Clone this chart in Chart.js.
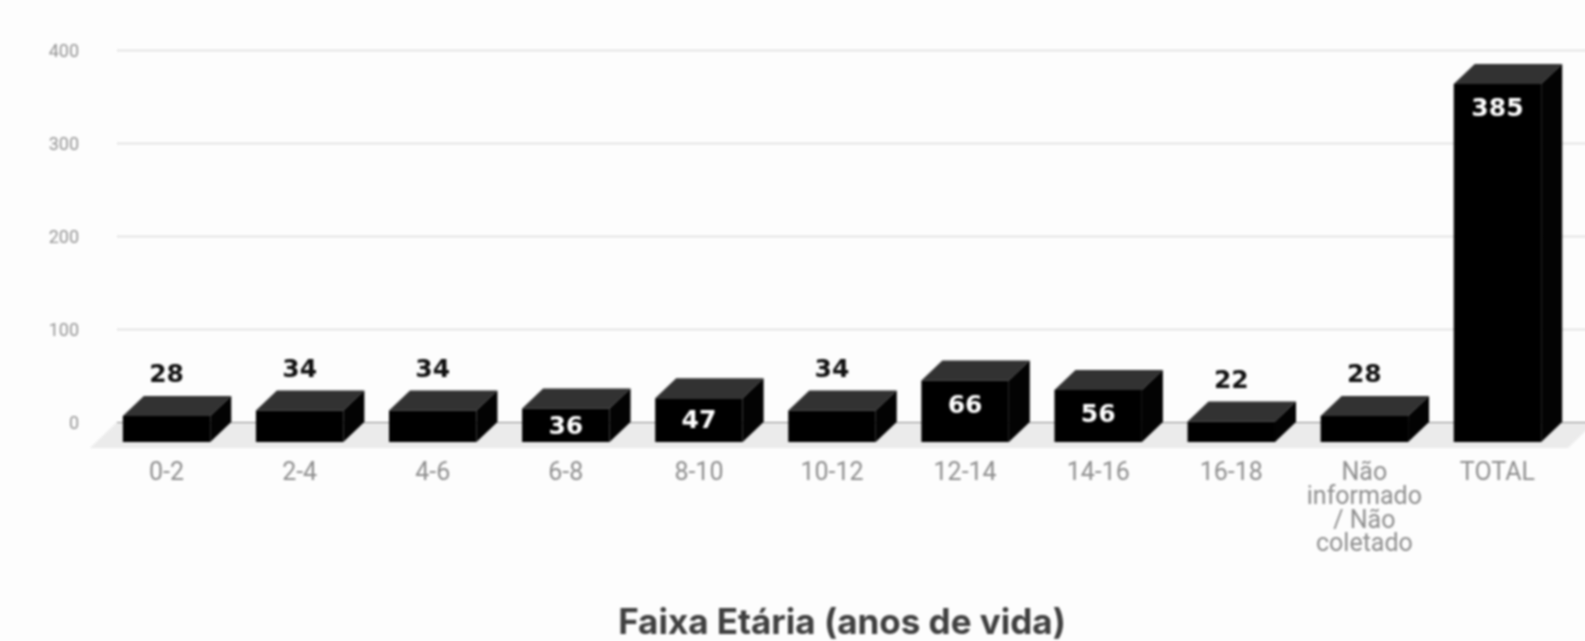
<!DOCTYPE html>
<html>
<head>
<meta charset="utf-8">
<script src="https://cdn.jsdelivr.net/npm/chart.js@4"></script>
<style>
  html, body { margin: 0; background: #fdfdfd; }
  #wrap { width: 1585px; height: 641px; overflow: hidden; }
  #chart { display: block; filter: blur(1px); }
</style>
</head>
<body>
<div id="wrap"><canvas id="chart" width="1684" height="641"></canvas></div>
<script>
const categories = ['0-2', '2-4', '4-6', '6-8', '8-10', '10-12', '12-14', '14-16', '16-18',
  ['Não', 'informado', '/ Não', 'coletado'], 'TOTAL'];
const values = [28, 34, 34, 36, 47, 34, 66, 56, 22, 28, 385];
const yTicks = [0, 100, 200, 300, 400];
const axisTitle = 'Faixa Etária (anos de vida)';

// a 3d look: front faces are real bars on an axis shifted down, the rest is drawn around them
const DEPTH_X = 21;
const DEPTH_Y = 20;
const PX_PER_UNIT = 0.93;
const FLOOR = 26; // px of floor below the zero line

function poly(ctx, pts, color) {
  ctx.fillStyle = color;
  ctx.beginPath();
  pts.forEach((p, i) => (i ? ctx.lineTo(p[0], p[1]) : ctx.moveTo(p[0], p[1])));
  ctx.closePath();
  ctx.fill();
}

const box3d = {
  id: 'box3d',
  beforeDatasetsDraw(chart) {
    const { ctx, chartArea, scales } = chart;
    const zero = scales.y.getPixelForValue(0);
    const front = chartArea.bottom;

    // floor
    poly(ctx, [
      [chartArea.left - 10, front], [chartArea.left + 17, zero],
      [chartArea.right + 31, zero], [chartArea.right + 4, front],
    ], '#ebebeb');

    // grid lines
    yTicks.forEach((t) => {
      const y = Math.round(scales.y.getPixelForValue(t)) + 0.5;
      ctx.strokeStyle = t === 0 ? '#8c8c8c' : '#dcdcdc';
      ctx.lineWidth = t === 0 ? 1.2 : 1.6;
      ctx.beginPath();
      ctx.moveTo(chartArea.left + 17, y);
      ctx.lineTo(chart.width, y);
      ctx.stroke();
    });

    // top and side of every box
    chart.getDatasetMeta(0).data.forEach((bar) => {
      const l = bar.x - bar.width / 2;
      const r = bar.x + bar.width / 2;
      poly(ctx, [[l, bar.y], [l + DEPTH_X, bar.y - DEPTH_Y], [r + DEPTH_X, bar.y - DEPTH_Y], [r, bar.y]], '#323232');
      poly(ctx, [[r, bar.y], [r + DEPTH_X, bar.y - DEPTH_Y], [r + DEPTH_X, bar.base - DEPTH_Y], [r, bar.base]], '#030303');
    });
  },
  afterDatasetsDraw(chart) {
    const { ctx } = chart;
    ctx.font = 'bold 25px "DejaVu Sans"';
    ctx.textAlign = 'center';
    ctx.textBaseline = 'middle';
    chart.getDatasetMeta(0).data.forEach((bar, i) => {
      const h = bar.base - bar.y;
      if (values[i] > 34) {
        ctx.fillStyle = '#ffffff';
        ctx.fillText(values[i], bar.x, bar.y + 3 + Math.min(23, h * 0.47));
      } else {
        ctx.fillStyle = '#111111';
        ctx.fillText(values[i], bar.x, bar.y - 40);
      }
    });
  },
};

const yMax = 400;
const yMin = -FLOOR / PX_PER_UNIT;
const shift = DEPTH_Y / PX_PER_UNIT;

new Chart(document.getElementById('chart'), {
  type: 'bar',
  data: {
    labels: categories,
    datasets: [{
      data: values,
      yAxisID: 'yFront',
      backgroundColor: '#000000',
      barPercentage: 0.657,
      categoryPercentage: 1,
    }],
  },
  plugins: [box3d],
  options: {
    responsive: false,
    animation: false,
    layout: { padding: { top: 50 } },
    plugins: {
      legend: { display: false },
      tooltip: { enabled: false },
      title: {
        display: true,
        text: axisTitle,
        position: 'bottom',
        color: '#404040',
        font: { family: 'Inter', size: 35, weight: 'bold', lineHeight: 1 },
        padding: { top: 0, bottom: 0.5 },
      },
    },
    scales: {
      x: {
        grid: { display: false },
        border: { display: false },
        ticks: {
          autoSkip: false,
          maxRotation: 0,
          padding: 6,
          color: '#8e8e8e',
          font: { family: 'Roboto', size: 25, lineHeight: 0.95 },
        },
        afterFit(scale) { scale.height = 157.5; },
      },
      y: {
        min: yMin,
        max: yMax,
        grid: { display: false, drawTicks: false },
        border: { display: false },
        ticks: {
          padding: 21,
          labelOffset: 2,
          color: '#949494',
          font: { family: 'Roboto', size: 18 },
        },
        afterBuildTicks(scale) { scale.ticks = yTicks.map((value) => ({ value })); },
        afterFit(scale) { scale.width = 100; },
      },
      yFront: {
        position: 'right',
        min: yMin + shift,
        max: yMax + shift,
        grid: { display: false, drawTicks: false },
        border: { display: false },
        ticks: { display: false },
        afterFit(scale) { scale.width = 120; },
      },
    },
  },
});
</script>
</body>
</html>
